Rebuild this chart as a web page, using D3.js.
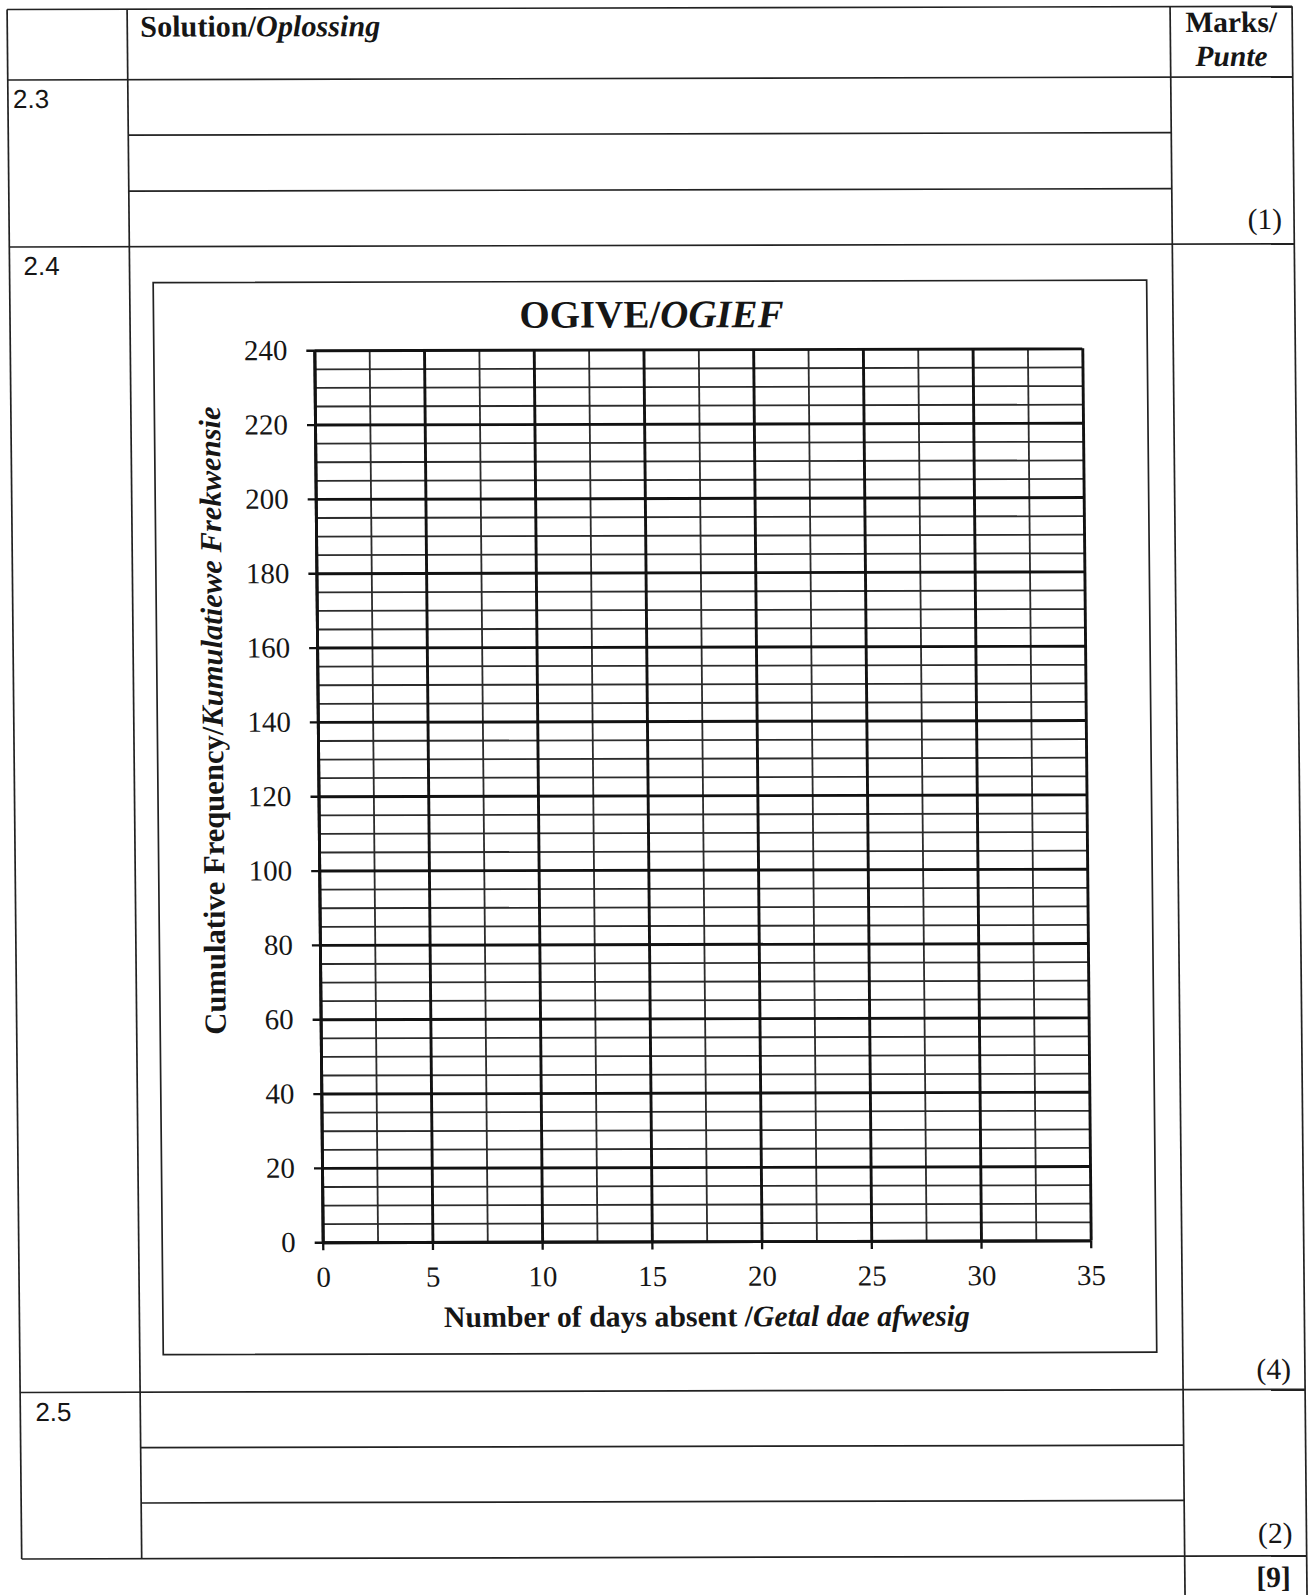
<!DOCTYPE html>
<html>
<head>
<meta charset="utf-8">
<script src="https://cdn.jsdelivr.net/npm/d3@7"></script>
<style>
  body { margin: 0; background: #fff; }
  svg { display: block; }
  text { font-family: "Liberation Serif", "Times New Roman", serif; fill: #161616; }
  .rule { stroke: #222; stroke-width: 1.7; }
  .grid .domain { display: none; }
  .minor line { stroke: #2c2c2c; stroke-width: 1.8; }
  .major line { stroke: #121212; stroke-width: 2.9; }
  .axis .domain { stroke: #121212; stroke-width: 2.9; }
  .axis line { stroke: #121212; stroke-width: 2.3; }
</style>
</head>
<body>
<svg id="page"></svg>
<script>
// ogive grid: labelled ticks and the finer grid lines in between
var xTicks = [0, 5, 10, 15, 20, 25, 30, 35];
var xMinor = [2.5, 7.5, 12.5, 17.5, 22.5, 27.5, 32.5];
var yTicks = [0, 20, 40, 60, 80, 100, 120, 140, 160, 180, 200, 220, 240];
var yMinor = [5, 10, 15, 25, 30, 35, 45, 50, 55, 65, 70, 75, 85, 90, 95,
              105, 110, 115, 125, 130, 135, 145, 150, 155, 165, 170, 175,
              185, 190, 195, 205, 210, 215, 225, 230, 235];

// question rows of the answer sheet and their marks
var rowLabels = ["2.3", "2.4", "2.5"];
var rowMarks = ["(1)", "(4)", "(2)"];
var totalMark = "[9]";

var W = 1308, H = 1595;
var svg = d3.select("#page").attr("width", W).attr("height", H);

// the scan is slightly sheared, so draw everything inside a skewed group
var page = svg.append("g").attr("transform", "skewX(0.54) skewY(-0.14)");

// table geometry
var colL = 7, colA = 127, colB = 1170, colR = 1292;
var yTop = 9.5, yHead = 80, y3 = 247, y5 = 1392.5, yEnd = 1559;
var lines3 = [135.5, 191.5], lines5 = [1448, 1503.3];

function hline(x1, x2, y) {
    page.append("line").attr("class", "rule")
        .attr("x1", x1).attr("x2", x2).attr("y1", y).attr("y2", y);
}
function vline(x, y1, y2) {
    page.append("line").attr("class", "rule")
        .attr("x1", x).attr("x2", x).attr("y1", y1).attr("y2", y2);
}

[yTop, yHead, y3, y5, yEnd].forEach(function(y) { hline(colL, colR, y); });
lines3.concat(lines5).forEach(function(y) { hline(colA, colB, y); });
vline(colL, yTop, yEnd);
vline(colA, yTop, yEnd);
vline(colB, yTop, H + 10);
vline(colR, yTop, H + 10);

// header
var head = page.append("text").attr("x", 140).attr("y", 37)
    .style("font-size", "30.2px").style("font-weight", "bold");
head.append("tspan").text("Solution/");
head.append("tspan").style("font-style", "italic").text("Oplossing");

page.append("text").attr("x", 1231).attr("y", 35)
    .attr("text-anchor", "middle")
    .style("font-size", "29.5px").style("font-weight", "bold")
    .text("Marks/");
page.append("text").attr("x", 1231).attr("y", 69)
    .attr("text-anchor", "middle")
    .style("font-size", "29.5px").style("font-weight", "bold").style("font-style", "italic")
    .text("Punte");

// row numbers and marks
var labelPos = [[12, 108], [21, 275], [22, 1421]];
var markPos = [[1280, 232], [1278, 1382], [1278, 1546]];
rowLabels.forEach(function(d, i) {
    page.append("text").attr("x", labelPos[i][0]).attr("y", labelPos[i][1])
        .style("font-family", "'Liberation Sans', Arial, sans-serif")
        .style("font-size", "26px")
        .text(d);
});
rowMarks.forEach(function(d, i) {
    page.append("text").attr("x", markPos[i][0]).attr("y", markPos[i][1])
        .attr("text-anchor", "end")
        .style("font-size", "29.5px")
        .text(d);
});
page.append("text").attr("x", 1276).attr("y", 1590)
    .attr("text-anchor", "end")
    .style("font-size", "29.5px").style("font-weight", "bold")
    .text(totalMark);

// chart frame
page.append("rect").attr("class", "rule")
    .attr("x", 150.5).attr("y", 283).attr("width", 993.5).attr("height", 1072)
    .attr("fill", "none");

var margin = {top: 351, left: 311};
var width_plot = 768, height_plot = 892;

var x = d3.scaleLinear().domain([0, 35]).range([0, width_plot]);
var y = d3.scaleLinear().domain([0, 240]).range([height_plot, 0]);

var g = page.append("g")
    .attr("transform", "translate(" + margin.left + "," + margin.top + ")");

// minor gridlines
g.append("g").attr("class", "grid minor")
    .call(d3.axisLeft(y).tickValues(yMinor).tickSize(-width_plot).tickFormat(""));
g.append("g").attr("class", "grid minor")
    .attr("transform", "translate(0," + height_plot + ")")
    .call(d3.axisBottom(x).tickValues(xMinor).tickSize(-height_plot).tickFormat(""));

// major gridlines
g.append("g").attr("class", "grid major")
    .call(d3.axisLeft(y).tickValues(yTicks).tickSize(-width_plot).tickFormat(""));
g.append("g").attr("class", "grid major")
    .attr("transform", "translate(0," + height_plot + ")")
    .call(d3.axisBottom(x).tickValues(xTicks).tickSize(-height_plot).tickFormat(""));

// axes with labels
var yAxis = g.append("g").attr("class", "axis")
    .call(d3.axisLeft(y).tickValues(yTicks).tickSize(8).tickSizeOuter(0).tickPadding(19));
var xAxis = g.append("g").attr("class", "axis")
    .attr("transform", "translate(0," + height_plot + ")")
    .call(d3.axisBottom(x).tickValues(xTicks).tickSize(8).tickSizeOuter(0).tickPadding(16));
[yAxis, xAxis].forEach(function(a) {
    a.selectAll("text")
        .style("font-family", "'Liberation Serif', serif")
        .style("font-size", "29px")
        .style("fill", "#161616");
});

// titles
var title = page.append("text").attr("x", 648.5).attr("y", 329)
    .attr("text-anchor", "middle")
    .style("font-size", "39px").style("font-weight", "bold");
title.append("tspan").text("OGIVE/");
title.append("tspan").style("font-style", "italic").text("OGIEF");

var xt = page.append("text").attr("x", 694.5).attr("y", 1328)
    .attr("text-anchor", "middle")
    .style("font-size", "29.8px").style("font-weight", "bold");
xt.append("tspan").text("Number of days absent /");
xt.append("tspan").style("font-style", "italic").text("Getal dae afwesig");

var yt = page.append("text")
    .attr("transform", "translate(216,721) rotate(-90)")
    .attr("text-anchor", "middle")
    .style("font-size", "30.6px").style("font-weight", "bold");
yt.append("tspan").text("Cumulative Frequency/");
yt.append("tspan").style("font-style", "italic").text("Kumulatiewe Frekwensie");
</script>
</body>
</html>
